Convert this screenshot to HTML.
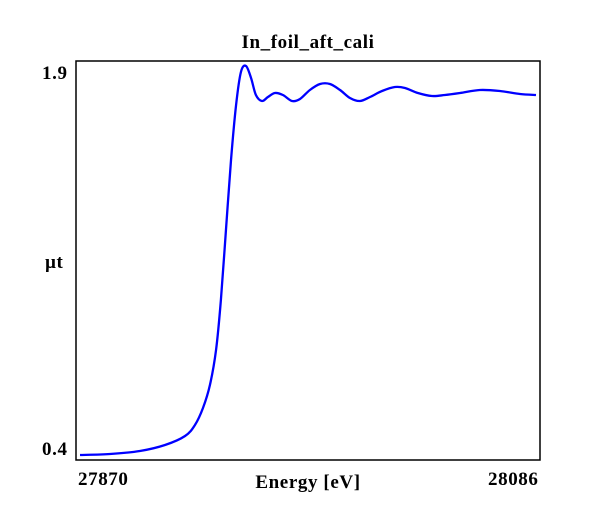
<!DOCTYPE html>
<html><head><meta charset="utf-8"><style>
body{margin:0;background:#fff;width:600px;height:520px;overflow:hidden}
svg text{font-family:"Liberation Serif",serif;font-weight:bold;font-size:19px;letter-spacing:0.6px;fill:#000}
</style></head><body>
<svg width="600" height="520">
<text x="308" y="48" text-anchor="middle">In_foil_aft_cali</text>
<rect x="76" y="61" width="464" height="399" fill="none" stroke="#000" stroke-width="1.5"/>
<text x="42" y="79">1.9</text>
<text x="42" y="455">0.4</text>
<text x="45" y="268">µt</text>
<text x="78" y="485">27870</text>
<text x="488" y="485">28086</text>
<text x="308" y="488" text-anchor="middle">Energy [eV]</text>
<path id="curve" fill="none" stroke="#0000ff" stroke-width="2.3"/>
</svg>
<script>
const energy=[27869.9,27884.1,27898.3,27910.2,27919.7,27924.4,27928.2,27931.5,27934.4,27936.7,27939.1,27941.5,27943.9,27946.2,27948.6,27951.0,27953.3,27956.2,27959.0,27962.3,27966.1,27970.4,27974.2,27978.9,27983.7,27988.4,27993.2,27997.9,28002.6,28007.4,28013.1,28019.2,28024.0,28030.1,28036.8,28042.9,28050.1,28059.5,28069.0,28078.5,28086.1];
const mu=[0.372,0.376,0.388,0.412,0.448,0.492,0.560,0.652,0.792,0.992,1.272,1.552,1.772,1.904,1.928,1.880,1.812,1.788,1.804,1.820,1.812,1.788,1.796,1.832,1.856,1.856,1.832,1.800,1.788,1.804,1.828,1.844,1.840,1.820,1.808,1.812,1.820,1.832,1.828,1.816,1.812];
function xs(e){return 76+(e-27868)/(28088-27868)*464;}
function ys(v){return 73+(1.9-v)*250;}
const p=energy.map((e,i)=>[xs(e),ys(mu[i])]);
let d='M'+p[0][0]+','+p[0][1];
for(let i=0;i<p.length-1;i++){
 const p0=p[i-1]||p[i],p1=p[i],p2=p[i+1],p3=p[i+2]||p2;
 const c1=[p1[0]+(p2[0]-p0[0])/6,p1[1]+(p2[1]-p0[1])/6];
 const c2=[p2[0]-(p3[0]-p1[0])/6,p2[1]-(p3[1]-p1[1])/6];
 d+=`C${c1[0]},${c1[1]} ${c2[0]},${c2[1]} ${p2[0]},${p2[1]}`;
}
document.getElementById('curve').setAttribute('d',d);
</script>
</body></html>
